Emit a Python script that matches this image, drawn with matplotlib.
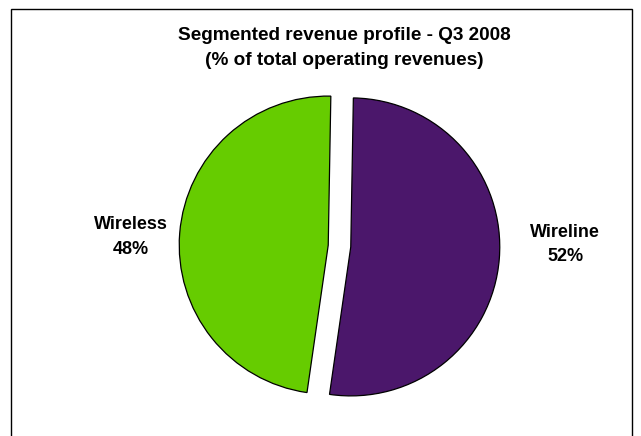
import matplotlib
matplotlib.use("Agg")
import matplotlib.pyplot as plt
from matplotlib.patches import Rectangle

plt.rcParams['font.family'] = ['Liberation Sans', 'DejaVu Sans']

segments = ["Wireline", "Wireless"]
shares = [52, 48]
colors = ["#4B176B", "#66CC00"]
title_lines = ["Segmented revenue profile - Q3 2008", "(% of total operating revenues)"]

W, H = 641, 436
fig = plt.figure(figsize=(W / 100, H / 100), dpi=100)
ax = fig.add_axes([0, 0, 1, 1])

cx, cy, r = 339.5, H - 246, 149
gap = 11.3
ax.pie(shares, colors=colors, startangle=89, counterclock=False,
       explode=[gap, gap], center=(cx, cy), radius=r,
       wedgeprops=dict(edgecolor="black", linewidth=0.9))
ax.set_xlim(0, W)
ax.set_ylim(0, H)
ax.set_aspect("equal")
ax.axis("off")

# border
ax.add_patch(Rectangle((11, -20), 621, H - 9 + 20, fill=False,
                       edgecolor="black", linewidth=1.0, clip_on=False))

ax.text(344, H - 48, "\n".join(title_lines), ha="center", va="center",
        fontsize=13.7, fontweight="bold", linespacing=1.55)

label_pos = {"Wireline": (565, H - 244.5), "Wireless": (131, H - 237)}
for name, val in zip(segments, shares):
    x, y = label_pos[name]
    ax.text(x, y, f"{name}\n{val}%", ha="center", va="center",
            fontsize=13, fontweight="bold", linespacing=1.6)

fig.savefig("out.png", dpi=100)
